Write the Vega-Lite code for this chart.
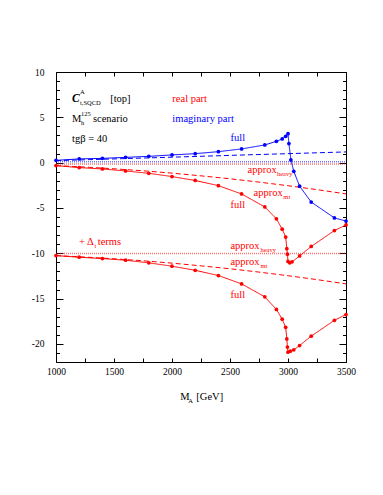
{
  "$schema": "https://vega.github.io/schema/vega-lite/v6.json",
  "width": 290,
  "height": 290,
  "autosize": {"type": "none"},
  "padding": {"left": 56, "top": 72, "right": 37, "bottom": 133},
  "background": "white",
  "config": {
    "view": {"stroke": "black", "strokeWidth": 1},
    "axis": {"labelFont": "Liberation Serif", "labelFontSize": 9.5, "labelColor": "black", "tickColor": "black", "domain": false, "grid": false, "title": null, "labelOverlap": false, "labelFlush": false}
  },
  "datasets": {
    "curves": [
      {"series": "im_full", "part": "imag", "kind": "full", "M": 1000, "C": 0.25},
      {"series": "im_full", "part": "imag", "kind": "full", "M": 1200, "C": 0.41},
      {"series": "im_full", "part": "imag", "kind": "full", "M": 1400, "C": 0.47},
      {"series": "im_full", "part": "imag", "kind": "full", "M": 1600, "C": 0.58},
      {"series": "im_full", "part": "imag", "kind": "full", "M": 1800, "C": 0.69},
      {"series": "im_full", "part": "imag", "kind": "full", "M": 2000, "C": 0.85},
      {"series": "im_full", "part": "imag", "kind": "full", "M": 2200, "C": 0.99},
      {"series": "im_full", "part": "imag", "kind": "full", "M": 2400, "C": 1.21},
      {"series": "im_full", "part": "imag", "kind": "full", "M": 2600, "C": 1.51},
      {"series": "im_full", "part": "imag", "kind": "full", "M": 2800, "C": 1.95},
      {"series": "im_full", "part": "imag", "kind": "full", "M": 2900, "C": 2.35},
      {"series": "im_full", "part": "imag", "kind": "full", "M": 2950, "C": 2.61},
      {"series": "im_full", "part": "imag", "kind": "full", "M": 2980, "C": 2.9},
      {"series": "im_full", "part": "imag", "kind": "full", "M": 3000, "C": 3.2},
      {"series": "im_full", "part": "imag", "kind": "full", "M": 3008, "C": 2.1},
      {"series": "im_full", "part": "imag", "kind": "full", "M": 3025, "C": 0.3},
      {"series": "im_full", "part": "imag", "kind": "full", "M": 3050, "C": -0.96},
      {"series": "im_full", "part": "imag", "kind": "full", "M": 3100, "C": -2.6},
      {"series": "im_full", "part": "imag", "kind": "full", "M": 3200, "C": -4.35},
      {"series": "im_full", "part": "imag", "kind": "full", "M": 3400, "C": -6.1},
      {"series": "im_full", "part": "imag", "kind": "full", "M": 3500, "C": -6.45},
      {"series": "im_mt", "part": "imag", "kind": "mt", "M": 1000, "C": 0.22},
      {"series": "im_mt", "part": "imag", "kind": "mt", "M": 1500, "C": 0.41},
      {"series": "im_mt", "part": "imag", "kind": "mt", "M": 2000, "C": 0.6},
      {"series": "im_mt", "part": "imag", "kind": "mt", "M": 2500, "C": 0.8},
      {"series": "im_mt", "part": "imag", "kind": "mt", "M": 3000, "C": 0.99},
      {"series": "im_mt", "part": "imag", "kind": "mt", "M": 3500, "C": 1.18},
      {"series": "re_full", "part": "real", "kind": "full", "M": 1000, "C": -0.33},
      {"series": "re_full", "part": "real", "kind": "full", "M": 1200, "C": -0.55},
      {"series": "re_full", "part": "real", "kind": "full", "M": 1400, "C": -0.7},
      {"series": "re_full", "part": "real", "kind": "full", "M": 1600, "C": -0.92},
      {"series": "re_full", "part": "real", "kind": "full", "M": 1800, "C": -1.18},
      {"series": "re_full", "part": "real", "kind": "full", "M": 2000, "C": -1.54},
      {"series": "re_full", "part": "real", "kind": "full", "M": 2200, "C": -1.97},
      {"series": "re_full", "part": "real", "kind": "full", "M": 2400, "C": -2.54},
      {"series": "re_full", "part": "real", "kind": "full", "M": 2600, "C": -3.46},
      {"series": "re_full", "part": "real", "kind": "full", "M": 2800, "C": -4.89},
      {"series": "re_full", "part": "real", "kind": "full", "M": 2900, "C": -6.2},
      {"series": "re_full", "part": "real", "kind": "full", "M": 2950, "C": -7.35},
      {"series": "re_full", "part": "real", "kind": "full", "M": 2980, "C": -8.21},
      {"series": "re_full", "part": "real", "kind": "full", "M": 2990, "C": -9.5},
      {"series": "re_full", "part": "real", "kind": "full", "M": 2995, "C": -10.1},
      {"series": "re_full", "part": "real", "kind": "full", "M": 3000, "C": -10.9},
      {"series": "re_full", "part": "real", "kind": "full", "M": 3015, "C": -11.06},
      {"series": "re_full", "part": "real", "kind": "full", "M": 3035, "C": -10.95},
      {"series": "re_full", "part": "real", "kind": "full", "M": 3100, "C": -10.3},
      {"series": "re_full", "part": "real", "kind": "full", "M": 3200, "C": -9.25},
      {"series": "re_full", "part": "real", "kind": "full", "M": 3400, "C": -7.5},
      {"series": "re_full", "part": "real", "kind": "full", "M": 3500, "C": -6.87},
      {"series": "re_mt", "part": "real", "kind": "mt", "M": 1000, "C": -0.33},
      {"series": "re_mt", "part": "real", "kind": "mt", "M": 1250, "C": -0.49},
      {"series": "re_mt", "part": "real", "kind": "mt", "M": 1500, "C": -0.68},
      {"series": "re_mt", "part": "real", "kind": "mt", "M": 1750, "C": -0.9},
      {"series": "re_mt", "part": "real", "kind": "mt", "M": 2000, "C": -1.16},
      {"series": "re_mt", "part": "real", "kind": "mt", "M": 2250, "C": -1.46},
      {"series": "re_mt", "part": "real", "kind": "mt", "M": 2500, "C": -1.78},
      {"series": "re_mt", "part": "real", "kind": "mt", "M": 2750, "C": -2.15},
      {"series": "re_mt", "part": "real", "kind": "mt", "M": 3000, "C": -2.55},
      {"series": "re_mt", "part": "real", "kind": "mt", "M": 3250, "C": -2.98},
      {"series": "re_mt", "part": "real", "kind": "mt", "M": 3500, "C": -3.45},
      {"series": "dt_full", "part": "real", "kind": "full", "M": 1000, "C": -10.26},
      {"series": "dt_full", "part": "real", "kind": "full", "M": 1200, "C": -10.44},
      {"series": "dt_full", "part": "real", "kind": "full", "M": 1400, "C": -10.59},
      {"series": "dt_full", "part": "real", "kind": "full", "M": 1600, "C": -10.77},
      {"series": "dt_full", "part": "real", "kind": "full", "M": 1800, "C": -11.06},
      {"series": "dt_full", "part": "real", "kind": "full", "M": 2000, "C": -11.43},
      {"series": "dt_full", "part": "real", "kind": "full", "M": 2200, "C": -11.88},
      {"series": "dt_full", "part": "real", "kind": "full", "M": 2400, "C": -12.46},
      {"series": "dt_full", "part": "real", "kind": "full", "M": 2600, "C": -13.38},
      {"series": "dt_full", "part": "real", "kind": "full", "M": 2800, "C": -14.81},
      {"series": "dt_full", "part": "real", "kind": "full", "M": 2900, "C": -16.2},
      {"series": "dt_full", "part": "real", "kind": "full", "M": 2950, "C": -17.28},
      {"series": "dt_full", "part": "real", "kind": "full", "M": 2980, "C": -18.17},
      {"series": "dt_full", "part": "real", "kind": "full", "M": 2990, "C": -19.45},
      {"series": "dt_full", "part": "real", "kind": "full", "M": 2995, "C": -20.35},
      {"series": "dt_full", "part": "real", "kind": "full", "M": 3000, "C": -20.92},
      {"series": "dt_full", "part": "real", "kind": "full", "M": 3020, "C": -20.81},
      {"series": "dt_full", "part": "real", "kind": "full", "M": 3050, "C": -20.66},
      {"series": "dt_full", "part": "real", "kind": "full", "M": 3100, "C": -20.18},
      {"series": "dt_full", "part": "real", "kind": "full", "M": 3200, "C": -19.15},
      {"series": "dt_full", "part": "real", "kind": "full", "M": 3400, "C": -17.4},
      {"series": "dt_full", "part": "real", "kind": "full", "M": 3500, "C": -16.76},
      {"series": "dt_mt", "part": "real", "kind": "mt", "M": 1000, "C": -10.26},
      {"series": "dt_mt", "part": "real", "kind": "mt", "M": 1250, "C": -10.42},
      {"series": "dt_mt", "part": "real", "kind": "mt", "M": 1500, "C": -10.61},
      {"series": "dt_mt", "part": "real", "kind": "mt", "M": 1750, "C": -10.83},
      {"series": "dt_mt", "part": "real", "kind": "mt", "M": 2000, "C": -11.09},
      {"series": "dt_mt", "part": "real", "kind": "mt", "M": 2250, "C": -11.39},
      {"series": "dt_mt", "part": "real", "kind": "mt", "M": 2500, "C": -11.71},
      {"series": "dt_mt", "part": "real", "kind": "mt", "M": 2750, "C": -12.08},
      {"series": "dt_mt", "part": "real", "kind": "mt", "M": 3000, "C": -12.48},
      {"series": "dt_mt", "part": "real", "kind": "mt", "M": 3250, "C": -12.91},
      {"series": "dt_mt", "part": "real", "kind": "mt", "M": 3500, "C": -13.38}
    ],
    "heavy": [
      {"series": "im_heavy", "part": "imag", "M": 1000, "C": 0.1},
      {"series": "im_heavy", "part": "imag", "M": 3500, "C": 0.1},
      {"series": "re_heavy", "part": "real", "M": 1000, "C": -0.15},
      {"series": "re_heavy", "part": "real", "M": 3500, "C": -0.15},
      {"series": "dt_heavy", "part": "real", "M": 1000, "C": -10.04},
      {"series": "dt_heavy", "part": "real", "M": 3500, "C": -10.04}
    ],
    "labelsMain": [
      {"M": 1467, "C": 6.73, "t": "[top]", "part": "none"},
      {"M": 2003, "C": 6.73, "t": "real part", "part": "real"},
      {"M": 1138, "C": 4.52, "t": "M", "part": "none"},
      {"M": 1318, "C": 4.52, "t": "scenario", "part": "none"},
      {"M": 2003, "C": 4.52, "t": "imaginary part", "part": "imag"},
      {"M": 1138, "C": 2.32, "t": "tgβ = 40", "part": "none"},
      {"M": 2504, "C": 2.43, "t": "full", "part": "imag"},
      {"M": 2651, "C": -1.1, "t": "approx", "part": "real"},
      {"M": 2703, "C": -3.64, "t": "approx", "part": "real"},
      {"M": 2504, "C": -4.96, "t": "full", "part": "real"},
      {"M": 1199, "C": -9.04, "t": "+ Δ", "part": "real"},
      {"M": 1360, "C": -9.04, "t": "terms", "part": "real"},
      {"M": 2504, "C": -9.49, "t": "approx", "part": "real"},
      {"M": 2504, "C": -11.25, "t": "approx", "part": "real"},
      {"M": 2504, "C": -14.89, "t": "full", "part": "real"},
      {"M": 2072, "C": -26.14, "t": "M", "part": "none"},
      {"M": 2210, "C": -26.14, "t": "[GeV]", "part": "none"}
    ],
    "labelsSmall": [
      {"M": 1207, "C": 7.61, "t": "A", "part": "none"},
      {"M": 1207, "C": 6.4, "t": "t,SQCD", "part": "none"},
      {"M": 1216, "C": 4.19, "t": "h", "part": "none"},
      {"M": 1216, "C": 5.18, "t": "125", "part": "none"},
      {"M": 2905, "C": -1.43, "t": "heavy", "part": "real"},
      {"M": 2960, "C": -3.97, "t": "mt", "part": "real"},
      {"M": 1331, "C": -9.38, "t": "t", "part": "real"},
      {"M": 2762, "C": -9.82, "t": "heavy", "part": "real"},
      {"M": 2762, "C": -11.58, "t": "mt", "part": "real"},
      {"M": 2141, "C": -26.47, "t": "A", "part": "none"}
    ],
    "labelsC": [
      {"M": 1138, "C": 6.73, "t": "C", "part": "none"}
    ]
  },
  "layer": [
    {
      "data": {"name": "heavy"},
      "mark": {"type": "line", "strokeWidth": 1.5, "strokeDash": [1, 1], "opacity": 0.55},
      "encoding": {
        "x": {"field": "M", "type": "quantitative", "scale": {"domain": [1000, 3500], "nice": false, "zero": false},
          "axis": {"orient": "top", "values": [1000, 1250, 1500, 1750, 2000, 2250, 2500, 2750, 3000, 3250, 3500], "labels": false, "tickSize": -4}},
        "y": {"field": "C", "type": "quantitative", "scale": {"domain": [-22, 10], "nice": false, "zero": false},
          "axis": {"orient": "right", "values": [-22, -21, -20, -19, -18, -17, -16, -15, -14, -13, -12, -11, -10, -9, -8, -7, -6, -5, -4, -3, -2, -1, 0, 1, 2, 3, 4, 5, 6, 7, 8, 9, 10], "labels": false,
            "tickSize": {"condition": {"test": "datum.value % 5 === 0", "value": -7}, "value": -3.5}}},
        "detail": {"field": "series"},
        "color": {"field": "part", "type": "nominal", "scale": {"domain": ["real", "imag", "none"], "range": ["#ff0000", "#0000ff", "#000000"]}, "legend": null}
      }
    },
    {
      "data": {"name": "curves"},
      "mark": {"type": "line", "strokeWidth": 1},
      "encoding": {
        "x": {"field": "M", "type": "quantitative",
          "axis": {"orient": "bottom", "values": [1000, 1250, 1500, 1750, 2000, 2250, 2500, 2750, 3000, 3250, 3500], "labelExpr": "datum.value % 500 === 0 ? '' + datum.value : ''", "tickSize": -4, "labelPadding": 8}},
        "y": {"field": "C", "type": "quantitative",
          "axis": {"orient": "left", "values": [-22, -21, -20, -19, -18, -17, -16, -15, -14, -13, -12, -11, -10, -9, -8, -7, -6, -5, -4, -3, -2, -1, 0, 1, 2, 3, 4, 5, 6, 7, 8, 9, 10],
            "labelExpr": "datum.value % 5 === 0 ? '' + datum.value : ''", "labelPadding": 19,
            "tickSize": {"condition": {"test": "datum.value % 5 === 0", "value": -7}, "value": -3.5}}},
        "detail": {"field": "series"},
        "color": {"field": "part", "type": "nominal", "scale": {"domain": ["real", "imag", "none"], "range": ["#ff0000", "#0000ff", "#000000"]}, "legend": null},
        "strokeDash": {"field": "kind", "type": "nominal", "scale": {"domain": ["full", "mt"], "range": [[1, 0], [5, 3]]}, "legend": null}
      }
    },
    {
      "data": {"name": "curves"},
      "transform": [{"filter": "datum.kind === 'full'"}],
      "mark": {"type": "circle", "size": 14, "opacity": 1},
      "encoding": {
        "x": {"field": "M", "type": "quantitative", "axis": null},
        "y": {"field": "C", "type": "quantitative", "axis": null},
        "color": {"field": "part", "type": "nominal", "scale": {"domain": ["real", "imag", "none"], "range": ["#ff0000", "#0000ff", "#000000"]}, "legend": null}
      }
    },
    {
      "data": {"name": "labelsMain"},
      "mark": {"type": "text", "font": "Liberation Serif", "fontSize": 10.5, "align": "left", "baseline": "alphabetic"},
      "encoding": {
        "x": {"field": "M", "type": "quantitative", "axis": null},
        "y": {"field": "C", "type": "quantitative", "axis": null},
        "text": {"field": "t"},
        "color": {"field": "part", "type": "nominal", "scale": {"domain": ["real", "imag", "none"], "range": ["#ff0000", "#0000ff", "#000000"]}, "legend": null}
      }
    },
    {
      "data": {"name": "labelsSmall"},
      "mark": {"type": "text", "font": "Liberation Serif", "fontSize": 6.5, "align": "left", "baseline": "alphabetic"},
      "encoding": {
        "x": {"field": "M", "type": "quantitative", "axis": null},
        "y": {"field": "C", "type": "quantitative", "axis": null},
        "text": {"field": "t"},
        "color": {"field": "part", "type": "nominal", "scale": {"domain": ["real", "imag", "none"], "range": ["#ff0000", "#0000ff", "#000000"]}, "legend": null}
      }
    },
    {
      "data": {"name": "labelsC"},
      "mark": {"type": "text", "font": "Liberation Serif", "fontSize": 11.5, "fontWeight": "bold", "fontStyle": "italic", "align": "left", "baseline": "alphabetic"},
      "encoding": {
        "x": {"field": "M", "type": "quantitative", "axis": null},
        "y": {"field": "C", "type": "quantitative", "axis": null},
        "text": {"field": "t"},
        "color": {"value": "#000000"}
      }
    }
  ],
  "resolve": {"axis": {"x": "independent", "y": "independent"}}
}
